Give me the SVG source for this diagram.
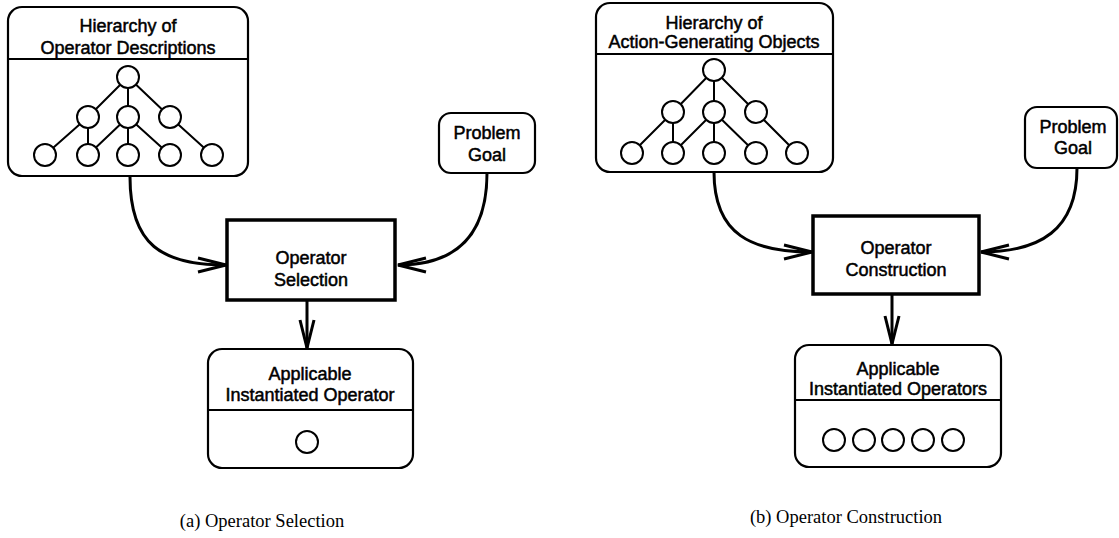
<svg xmlns="http://www.w3.org/2000/svg" width="1119" height="538" viewBox="0 0 1119 538">
<style>
.box{fill:#fff;stroke:#000;stroke-width:2.2}
.op{fill:#fff;stroke:#000;stroke-width:3.5}
.div{stroke:#000;stroke-width:2;fill:none}
.t{font-family:"Liberation Sans",Arial,sans-serif;font-size:18px;fill:#000;stroke:#000;stroke-width:0.5;text-anchor:middle}
.cap{font-family:"Liberation Serif","Times New Roman",serif;font-size:18.5px;fill:#000;text-anchor:middle}
.edge{stroke:#000;stroke-width:2;fill:none}
.nd{fill:#fff;stroke:#000;stroke-width:2}
.conn{stroke:#000;stroke-width:3;fill:none}
</style>
<defs>
<marker id="arr" viewBox="-30 -10 32 20" refX="0" refY="0" markerWidth="32" markerHeight="20" markerUnits="userSpaceOnUse" orient="auto" overflow="visible">
<path d="M-28,-7 L0,0 L-28,7" fill="none" stroke="#000" stroke-width="3" stroke-linejoin="miter"/>
</marker>
</defs>

<g id="connectors">
<path class="conn" d="M130,177 C130,245 162,265 226,265" marker-end="url(#arr)"/>
<path class="conn" d="M487,173 C487,240 452,265 398,265" marker-end="url(#arr)"/>
<path class="conn" d="M307,300 L307,348" marker-end="url(#arr)"/>
<path class="conn" d="M714,172 C714,235 752,252 812,252" marker-end="url(#arr)"/>
<path class="conn" d="M1077,168 C1077,230 1040,252 981,252" marker-end="url(#arr)"/>
<path class="conn" d="M892,294 L892,344" marker-end="url(#arr)"/>
</g>

<g id="hier-a">
<rect class="box" x="8" y="7" width="240" height="169" rx="14"/>
<line class="div" x1="8" y1="59" x2="248" y2="59"/>
<text class="t" x="128" y="32">Hierarchy of</text>
<text class="t" x="128" y="54">Operator Descriptions</text>
<g>
<path class="edge" d="M128,77 L88,117 M128,77 L128,117 M128,77 L170,117 M88,117 L45,155 M88,117 L88,155 M128,117 L88,155 M128,117 L128,155 M128,117 L170,155 M170,117 L212,155"/>
<circle class="nd" cx="128" cy="77" r="11"/>
<circle class="nd" cx="88" cy="117" r="11"/>
<circle class="nd" cx="128" cy="117" r="11"/>
<circle class="nd" cx="170" cy="117" r="11"/>
<circle class="nd" cx="45" cy="155" r="11"/>
<circle class="nd" cx="88" cy="155" r="11"/>
<circle class="nd" cx="128" cy="155" r="11"/>
<circle class="nd" cx="170" cy="155" r="11"/>
<circle class="nd" cx="212" cy="155" r="11"/>
</g>
</g>

<g id="goal-a">
<rect class="box" x="439" y="113" width="96" height="60" rx="12"/>
<text class="t" x="487" y="139">Problem</text>
<text class="t" x="487" y="161">Goal</text>
</g>

<g id="select-a">
<rect class="op" x="227" y="220" width="168" height="80"/>
<text class="t" x="311" y="264">Operator</text>
<text class="t" x="311" y="286">Selection</text>
</g>

<g id="result-a">
<rect class="box" x="208" y="349" width="205" height="119" rx="14"/>
<line class="div" x1="208" y1="410" x2="413" y2="410"/>
<text class="t" x="310" y="380">Applicable</text>
<text class="t" x="310" y="401">Instantiated Operator</text>
<circle class="nd" cx="307" cy="442" r="11"/>
</g>

<g id="hier-b">
<rect class="box" x="596" y="3" width="237" height="169" rx="14"/>
<line class="div" x1="596" y1="54" x2="833" y2="54"/>
<text class="t" x="714" y="29">Hierarchy of</text>
<text class="t" x="714" y="48">Action-Generating Objects</text>
<g>
<path class="edge" d="M714,70 L673,112 M714,70 L714,112 M714,70 L756,112 M673,112 L632,153 M673,112 L673,153 M714,112 L673,153 M714,112 L714,153 M714,112 L756,153 M756,112 L797,153"/>
<circle class="nd" cx="714" cy="70" r="11"/>
<circle class="nd" cx="673" cy="112" r="11"/>
<circle class="nd" cx="714" cy="112" r="11"/>
<circle class="nd" cx="756" cy="112" r="11"/>
<circle class="nd" cx="632" cy="153" r="11"/>
<circle class="nd" cx="673" cy="153" r="11"/>
<circle class="nd" cx="714" cy="153" r="11"/>
<circle class="nd" cx="756" cy="153" r="11"/>
<circle class="nd" cx="797" cy="153" r="11"/>
</g>
</g>

<g id="goal-b">
<rect class="box" x="1025" y="107" width="92" height="61" rx="12"/>
<text class="t" x="1073" y="133">Problem</text>
<text class="t" x="1073" y="154">Goal</text>
</g>

<g id="construct-b">
<rect class="op" x="813" y="216" width="166" height="78"/>
<text class="t" x="896" y="254">Operator</text>
<text class="t" x="896" y="276">Construction</text>
</g>

<g id="result-b">
<rect class="box" x="795" y="345" width="206" height="122" rx="14"/>
<line class="div" x1="795" y1="400" x2="1001" y2="400"/>
<text class="t" x="898" y="375">Applicable</text>
<text class="t" x="898" y="395">Instantiated Operators</text>
<circle class="nd" cx="834" cy="440" r="11"/>
<circle class="nd" cx="864" cy="440" r="11"/>
<circle class="nd" cx="893" cy="440" r="11"/>
<circle class="nd" cx="923" cy="440" r="11"/>
<circle class="nd" cx="953" cy="440" r="11"/>
</g>

<g id="captions">
<text class="cap" x="262" y="527">(a) Operator Selection</text>
<text class="cap" x="846" y="523">(b) Operator Construction</text>
</g>
</svg>
